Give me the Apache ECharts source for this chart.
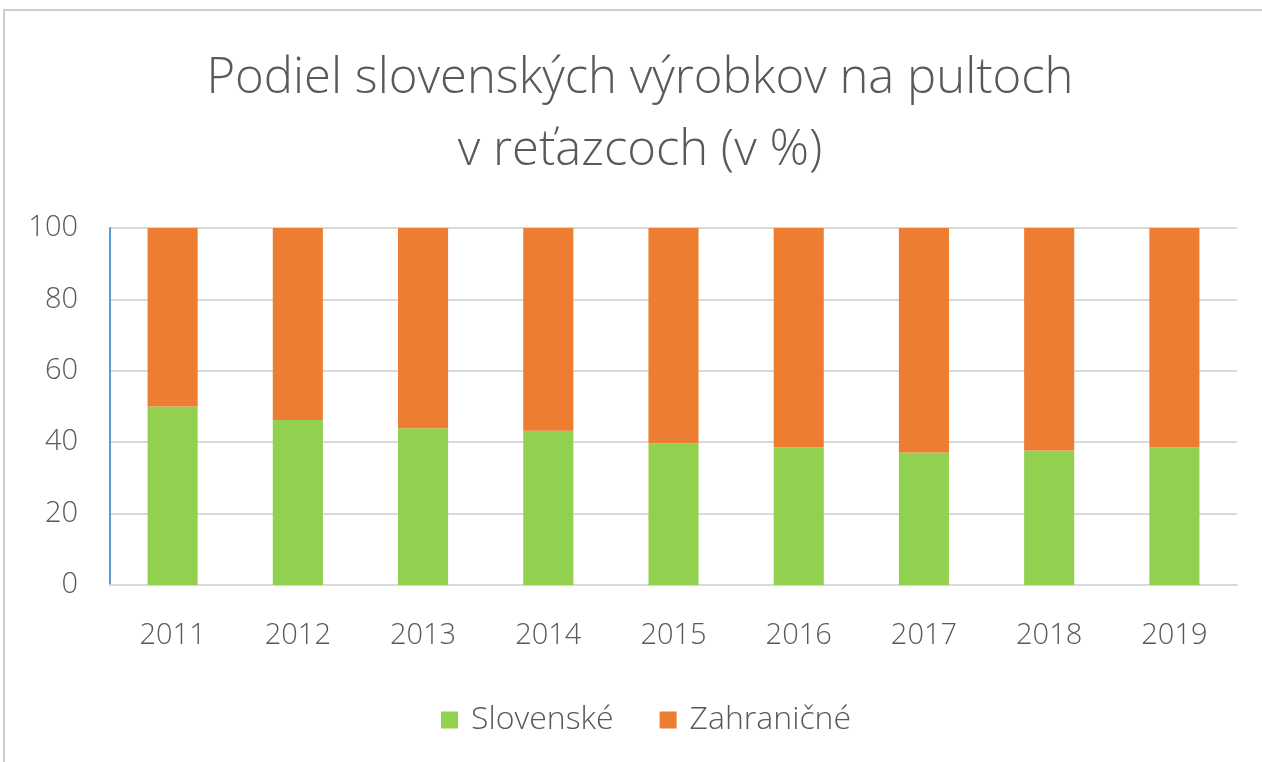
<!DOCTYPE html>
<html>
<head>
<meta charset="utf-8">
<script src="https://cdn.jsdelivr.net/npm/echarts@6/dist/echarts.min.js"></script>
<style>
html, body { margin: 0; padding: 0; background: #fff; }
#chart { width: 1262px; height: 762px; }
</style>
</head>
<body>
<div id="chart"></div>
<script>
// roky
var years = ['2011', '2012', '2013', '2014', '2015', '2016', '2017', '2018', '2019'];
// podiel v %
var slovenske = [50, 46.2, 43.9, 43.2, 39.7, 38.6, 37.1, 37.7, 38.6];
var zahranicne = [50, 53.8, 56.1, 56.8, 60.3, 61.4, 62.9, 62.3, 61.4];
var yTicks = [0, 20, 40, 60, 80, 100];

var myChart = echarts.init(document.getElementById('chart'));
var font = '"Open Sans", sans-serif';

var option = {
    animation: false,
    backgroundColor: '#fff',
    title: {
        text: 'Podiel slovenských výrobkov na pultoch\nv reťazcoch (v %)',
        left: 635,
        textAlign: 'center',
        top: 38,
        textStyle: {
            fontFamily: font,
            fontWeight: 300,
            fontSize: 49,
            lineHeight: 72,
            color: '#595959'
        }
    },
    legend: {
        data: ['Slovenské', 'Zahraničné'],
        left: 436,
        top: 699,
        itemWidth: 17,
        itemHeight: 17,
        itemGap: 46,
        icon: 'rect',
        textStyle: { fontFamily: font, fontSize: 32, color: '#595959', fontWeight: 300, padding: [0, 0, 0, 8] }
    },
    grid: { left: 110, right: 25, top: 228, bottom: 177, containLabel: false },
    xAxis: {
        type: 'category',
        data: years,
        axisLine: { lineStyle: { color: '#d9d9d9', width: 2 } },
        axisTick: { show: false },
        axisLabel: { fontFamily: font, fontSize: 29, color: '#595959', margin: 36, fontWeight: 300 }
    },
    yAxis: {
        type: 'value',
        min: yTicks[0],
        max: yTicks[yTicks.length - 1],
        interval: 20,
        axisLine: { show: true, lineStyle: { color: '#5b9bd5', width: 2 } },
        axisTick: { show: false },
        splitLine: { lineStyle: { color: '#d9d9d9', width: 2 } },
        axisLabel: { fontFamily: font, fontSize: 29, color: '#595959', margin: 32, fontWeight: 300 }
    },
    series: [
        {
            name: 'Slovenské',
            type: 'bar',
            stack: 'spolu',
            barWidth: '40%',
            itemStyle: { color: '#92d050' },
            data: slovenske
        },
        {
            name: 'Zahraničné',
            type: 'bar',
            stack: 'spolu',
            itemStyle: { color: '#ed7d31' },
            data: zahranicne
        }
    ],
    graphic: [{
        type: 'rect',
        shape: { x: 4, y: 10, width: 1400, height: 900 },
        style: { fill: 'none', stroke: '#bfbfbf', lineWidth: 1.5 },
        silent: true
    }]
};

myChart.setOption(option);
</script>
</body>
</html>
